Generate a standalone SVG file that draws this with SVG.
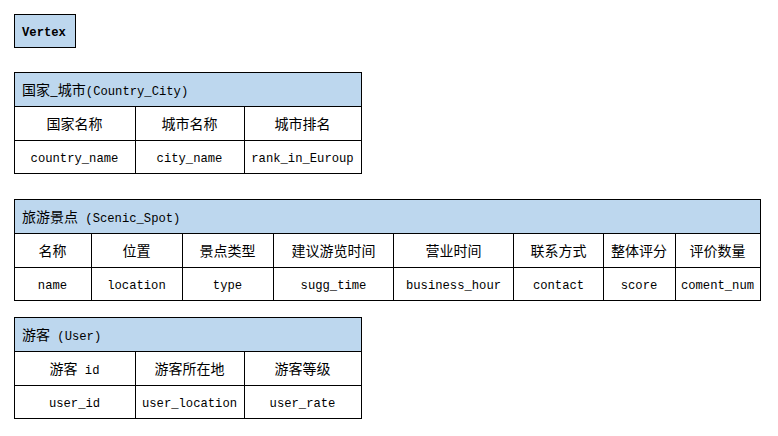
<svg xmlns="http://www.w3.org/2000/svg" width="778" height="436" viewBox="0 0 778 436">
<style>
.hd{fill:#BDD7EE;stroke:#000;stroke-width:1}
.cell{fill:#fff;stroke:#000;stroke-width:1}
.ln{stroke:#000;stroke-width:1;fill:none}
.cjk{font-family:"Noto Sans CJK SC","Noto Sans CJK TC",sans-serif;font-size:14px;fill:#000}
.lat{font-family:"Liberation Mono","Noto Sans CJK SC",monospace;font-size:12.2px;fill:#000}
.c{text-anchor:middle}
</style>
<rect width="778" height="436" fill="#fff"/>
<g id="vertex">
<rect class="hd" x="14.5" y="14.5" width="61" height="33"/>
<text class="lat" x="22" y="36" font-weight="bold">Vertex</text>
</g>
<g id="country_city">
<rect class="hd" x="14.5" y="72.5" width="347" height="34"/>
<rect class="cell" x="14.5" y="106.5" width="347" height="67"/>
<path class="ln" d="M14.5 140.5H361.5M135.5 106.5V173.5M244.5 106.5V173.5"/>
<text x="22" y="95"><tspan class="cjk">国家_城市</tspan><tspan class="lat">(Country_City)</tspan></text>
<text class="cjk c" x="74.5" y="128.5">国家名称</text>
<text class="cjk c" x="189.5" y="128.5">城市名称</text>
<text class="cjk c" x="302.5" y="128.5">城市排名</text>
<text class="lat c" x="74.5" y="162">country_name</text>
<text class="lat c" x="189.5" y="162">city_name</text>
<text class="lat c" x="302.5" y="162">rank_in_Euroup</text>
</g>
<g id="scenic_spot">
<rect class="hd" x="14.5" y="199.5" width="746" height="34"/>
<rect class="cell" x="14.5" y="233.5" width="746" height="67"/>
<path class="ln" d="M14.5 267.5H760.5M91.5 233.5V300.5M182.5 233.5V300.5M273.5 233.5V300.5M393.5 233.5V300.5M513.5 233.5V300.5M603.5 233.5V300.5M675.5 233.5V300.5"/>
<text x="22" y="222"><tspan class="cjk">旅游景点</tspan><tspan class="lat"> (Scenic_Spot)</tspan></text>
<text class="cjk c" x="52.5" y="255.5">名称</text>
<text class="cjk c" x="136.5" y="255.5">位置</text>
<text class="cjk c" x="227.5" y="255.5">景点类型</text>
<text class="cjk c" x="333.5" y="255.5">建议游览时间</text>
<text class="cjk c" x="453.5" y="255.5">营业时间</text>
<text class="cjk c" x="558.5" y="255.5">联系方式</text>
<text class="cjk c" x="639" y="255.5">整体评分</text>
<text class="cjk c" x="717.5" y="255.5">评价数量</text>
<text class="lat c" x="52.5" y="289">name</text>
<text class="lat c" x="136.5" y="289">location</text>
<text class="lat c" x="227.5" y="289">type</text>
<text class="lat c" x="333.5" y="289">sugg_time</text>
<text class="lat c" x="453.5" y="289">business_hour</text>
<text class="lat c" x="558.5" y="289">contact</text>
<text class="lat c" x="639" y="289">score</text>
<text class="lat c" x="717.5" y="289">coment_num</text>
</g>
<g id="user">
<rect class="hd" x="14.5" y="317.5" width="347" height="34"/>
<rect class="cell" x="14.5" y="351.5" width="347" height="67"/>
<path class="ln" d="M14.5 385.5H361.5M135.5 351.5V418.5M244.5 351.5V418.5"/>
<text x="22" y="340"><tspan class="cjk">游客</tspan><tspan class="lat"> (User)</tspan></text>
<text class="c" x="74.5" y="373.5"><tspan class="cjk">游客</tspan><tspan class="lat"> id</tspan></text>
<text class="cjk c" x="189.5" y="373.5">游客所在地</text>
<text class="cjk c" x="302.5" y="373.5">游客等级</text>
<text class="lat c" x="74.5" y="407">user_id</text>
<text class="lat c" x="189.5" y="407">user_location</text>
<text class="lat c" x="302.5" y="407">user_rate</text>
</g>
<g id="connectors"/>
</svg>
